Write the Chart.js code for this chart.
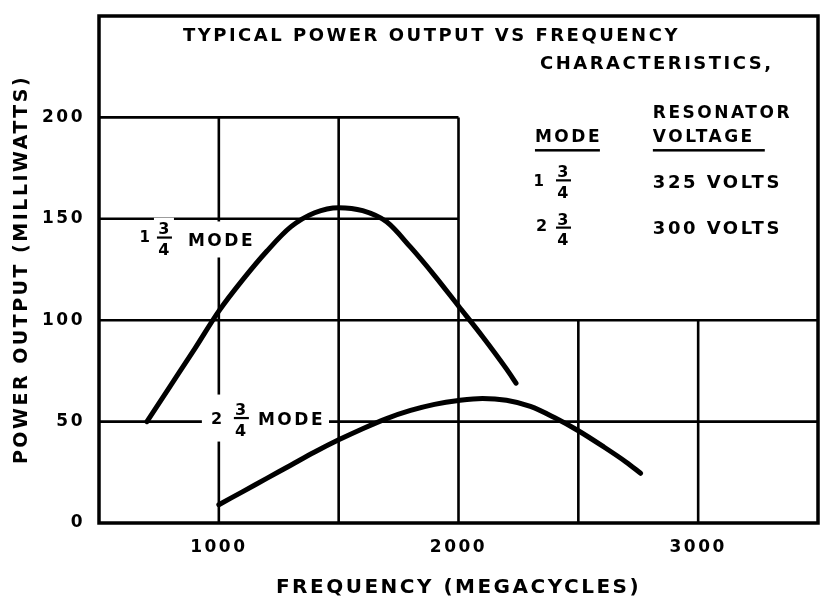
<!DOCTYPE html>
<html>
<head>
<meta charset="utf-8">
<script src="https://cdn.jsdelivr.net/npm/chart.js@4.4.0/dist/chart.umd.min.js"></script>
<style>
body { margin: 0; background: #fff; }
canvas { display: block; }
</style>
</head>
<body>
<canvas id="grafico" width="823" height="602"></canvas>
<script>
// 1 3/4 mode curve (325 volts)
const freqMode1 = [700, 800, 900, 1000, 1100, 1200, 1300, 1400, 1500, 1600, 1700, 1800, 1900, 2000, 2100, 2200, 2240];
const powerMode1 = [50, 68, 86, 104.5, 120, 134, 146, 153, 155.5, 154, 148.5, 136, 122, 107, 92, 76, 69];

// 2 3/4 mode curve (300 volts)
const freqMode2 = [1000, 1100, 1200, 1300, 1400, 1500, 1600, 1700, 1800, 1900, 2000, 2100, 2200, 2300, 2400, 2500, 2600, 2700, 2760];
const powerMode2 = [9, 15.5, 22, 28.5, 35, 41, 46.5, 51.5, 55.5, 58.5, 60.4, 61.4, 60.5, 57.5, 52, 45.5, 38, 30, 24.5];

const xTicks = [1000, 2000, 3000];
const yTicks = [0, 50, 100, 150, 200];

// grid pieces as drawn on the sheet: [value, from, to]
const gridH = [[50, 500, 3500], [100, 500, 3500], [150, 500, 2000], [200, 500, 2000]];
const gridV = [[1000, 0, 200], [1500, 0, 200], [2000, 0, 200], [2500, 0, 100], [3000, 0, 100]];

Chart.defaults.font.family = "DejaVu Sans";
Chart.defaults.color = "#000";

const FONTE = '"DejaVu Sans"';

function toPoints(xs, ys) {
    let pts = [];
    for (let i = 0; i < xs.length; i++) {
        pts.push({x: xs[i], y: ys[i]});
    }
    return pts;
}

function largura(ctx, s, size) {
    ctx.font = 'bold ' + size + 'px ' + FONTE;
    return ctx.measureText(s).width;
}

// text with its cap height centred on cy, optional white patch behind it
function escreve(ctx, s, px, cy, size, align, fundo) {
    ctx.font = 'bold ' + size + 'px ' + FONTE;
    ctx.textAlign = align;
    ctx.textBaseline = 'alphabetic';
    const w = ctx.measureText(s).width;
    const cap = size * 0.73;
    if (fundo) {
        let x0 = px;
        if (align === 'center') x0 = px - w / 2;
        if (align === 'right') x0 = px - w;
        ctx.fillStyle = '#fff';
        ctx.fillRect(x0 - 4, cy - fundo, w + 6, 2 * fundo);
    }
    ctx.fillStyle = '#000';
    ctx.fillText(s, px, cy + cap / 2);
}

// 3 over 4, bar at by
function fracao(ctx, px, by, fundo) {
    const size = 16;
    const cap = size * 0.73;
    if (fundo) {
        ctx.fillStyle = '#fff';
        ctx.fillRect(px - 10, by - cap - 8, 20, 2 * cap + 18);
    }
    ctx.font = 'bold ' + size + 'px ' + FONTE;
    ctx.textAlign = 'center';
    ctx.textBaseline = 'alphabetic';
    ctx.fillStyle = '#000';
    ctx.fillText('3', px + 1, by - 3);
    ctx.fillRect(px - 7, by - 1, 15, 2.2);
    ctx.fillText('4', px + 1, by + 6 + cap);
}

let desenho = {
    id: 'desenho',
    beforeDraw: (chart) => {
        chart.ctx.letterSpacing = '2.5px';
    },
    beforeDatasetsDraw: (chart) => {
        const ctx = chart.ctx;
        const sx = chart.scales.x;
        const sy = chart.scales.y;
        const a = chart.chartArea;
        const X = (v) => sx.getPixelForValue(v);
        const Y = (v) => sy.getPixelForValue(v);

        ctx.save();
        ctx.letterSpacing = '2.5px';
        ctx.strokeStyle = '#000';
        ctx.lineWidth = 2.6;
        ctx.beginPath();
        gridH.forEach(g => {
            ctx.moveTo(X(g[1]), Y(g[0]));
            ctx.lineTo(X(g[2]), Y(g[0]));
        });
        gridV.forEach(g => {
            ctx.moveTo(X(g[0]), Y(g[1]));
            ctx.lineTo(X(g[0]), Y(g[2]));
        });
        ctx.stroke();

        // frame
        ctx.lineWidth = 3.5;
        ctx.strokeRect(a.left, a.top, a.right - a.left, a.bottom - a.top);

        // heading
        escreve(ctx, 'TYPICAL POWER OUTPUT VS FREQUENCY', X(850), Y(241), 18, 'left', 0);
        escreve(ctx, 'CHARACTERISTICS,', X(2340), Y(227), 18, 'left', 0);

        // key table
        escreve(ctx, 'RESONATOR', X(2811), Y(202.6), 17, 'left', 0);
        escreve(ctx, 'VOLTAGE', X(2811), Y(190.7), 17, 'left', 0);
        escreve(ctx, 'MODE', X(2319), Y(190.7), 17, 'left', 0);
        ctx.fillRect(X(2319), Y(183.8) - 1.2, X(2590) - X(2319), 2.5);
        ctx.fillRect(X(2811), Y(183.8) - 1.2, X(3278) - X(2811), 2.5);

        escreve(ctx, '1', X(2340), Y(169), 15, 'center', 0);
        fracao(ctx, X(2436), Y(169), false);
        escreve(ctx, '325 VOLTS', X(2811), Y(168.5), 18, 'left', 0);

        escreve(ctx, '2', X(2352), Y(146.7), 16, 'center', 0);
        fracao(ctx, X(2436), Y(145.7), false);
        escreve(ctx, '300 VOLTS', X(2811), Y(145.7), 18, 'left', 0);

        // curve labels, they break the grid lines
        escreve(ctx, '1', X(696), Y(141.3), 15, 'center', 10);
        fracao(ctx, X(771), Y(140.8), true);
        escreve(ctx, 'MODE', X(871), Y(139.8), 17, 'left', 18);

        // one white patch for the whole 2 3/4 label
        const fim = X(1163) + largura(ctx, 'MODE', 17) + 4;
        ctx.fillStyle = '#fff';
        ctx.fillRect(X(996) - 16, Y(51.5) - 24, fim - X(996) + 16, 47);
        escreve(ctx, '2', X(996), Y(51.5), 16, 'center', 0);
        fracao(ctx, X(1092), Y(51.8), false);
        escreve(ctx, 'MODE', X(1163), Y(51.5), 17, 'left', 0);

        ctx.restore();
    }
};

const fixaX = (scale) => {
    scale.height = 79;
    scale.paddingLeft = 0;
    scale.paddingRight = 0;
};
const fixaY = (scale) => {
    scale.width = 99;
    scale.paddingTop = 0;
    scale.paddingBottom = 0;
};

const grafico = new Chart(document.getElementById('grafico'), {
    type: 'line',
    data: {
        datasets: [{
            label: '1 3/4 mode',
            data: toPoints(freqMode1, powerMode1),
            borderColor: '#000',
            borderWidth: 5,
            borderCapStyle: 'round',
            pointRadius: 0,
            cubicInterpolationMode: 'monotone',
            fill: false
        }, {
            label: '2 3/4 mode',
            data: toPoints(freqMode2, powerMode2),
            borderColor: '#000',
            borderWidth: 5,
            borderCapStyle: 'round',
            pointRadius: 0,
            cubicInterpolationMode: 'monotone',
            fill: false
        }]
    },
    options: {
        responsive: false,
        animation: false,
        layout: { padding: { top: 16, right: 5, left: 0, bottom: 0 } },
        plugins: {
            legend: { display: false },
            tooltip: { enabled: false }
        },
        scales: {
            x: {
                type: 'linear',
                min: 500,
                max: 3500,
                grid: { display: false, drawTicks: false },
                border: { display: false },
                afterBuildTicks: (scale) => { scale.ticks = xTicks.map(v => ({value: v})); },
                afterFit: fixaX,
                ticks: {
                    font: { size: 17, weight: 'bold' },
                    color: '#000',
                    padding: 14,
                    maxRotation: 0,
                    callback: (v) => String(v)
                },
                title: {
                    display: true,
                    text: 'FREQUENCY (MEGACYCLES)',
                    font: { size: 20, weight: 'bold' },
                    color: '#000',
                    padding: { top: 0, bottom: 2 }
                }
            },
            y: {
                type: 'linear',
                min: 0,
                max: 250,
                grid: { display: false, drawTicks: false },
                border: { display: false },
                afterBuildTicks: (scale) => { scale.ticks = yTicks.map(v => ({value: v})); },
                afterFit: fixaY,
                ticks: {
                    font: { size: 17, weight: 'bold' },
                    color: '#000',
                    padding: 14,
                    callback: (v) => String(v)
                },
                title: {
                    display: true,
                    text: 'POWER OUTPUT (MILLIWATTS)',
                    font: { size: 19, weight: 'bold' },
                    color: '#000',
                    padding: { top: 11, bottom: 0 }
                }
            }
        }
    },
    plugins: [desenho]
});
</script>
</body>
</html>
